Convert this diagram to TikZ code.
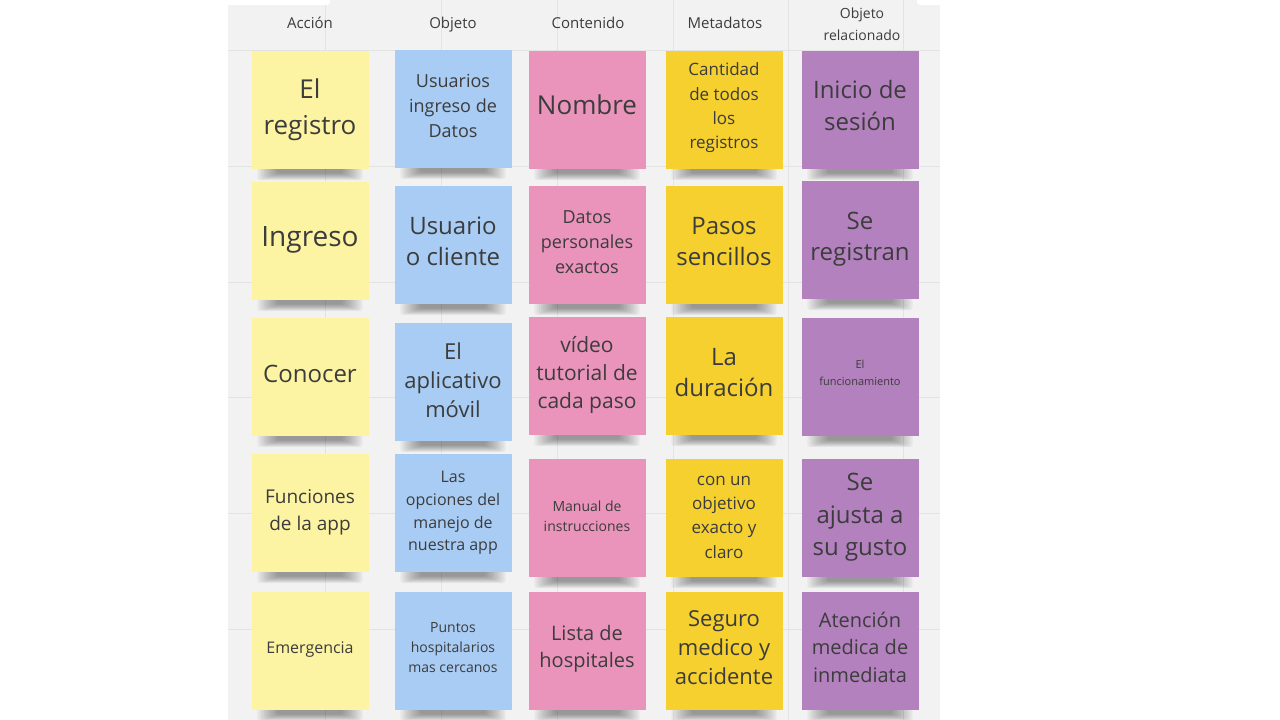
\documentclass[tikz,border=0pt]{standalone}
\usepackage{fontspec}
\setmainfont{Open Sans}
\pgfdeclarelayer{back}
\pgfdeclarelayer{bg}
\pgfsetlayers{back,bg,main}
\definecolor{panel}{HTML}{F2F2F2}
\definecolor{gridc}{HTML}{E3E3E3}
\definecolor{yel}{HTML}{FDF4A3}
\definecolor{blu}{HTML}{A8CCF3}
\definecolor{pnk}{HTML}{EA94BC}
\definecolor{gld}{HTML}{F5D02E}
\definecolor{prp}{HTML}{B381BE}
\definecolor{txt}{HTML}{3C3C3C}
\tikzset{
  note/.style={minimum width=117pt, minimum height=118pt, inner sep=0pt, draw=none},
  notetext/.style={align=center, text=txt, inner sep=0pt},
  head/.style={align=center, text=txt, inner sep=0pt, font=\fontsize{15}{22}\selectfont},
  gridline/.style={draw=gridc, line width=1pt},
  shlayer/.style={fill=black, opacity=0.045, rounded corners=3pt}
}
\newcommand\stickynote[8]{%
  \node[note, fill=#4] (#1) at (#2,#3) {};
  \node[notetext, font=\fontsize{#5}{#6}\selectfont] (#1t) at ([yshift=#8pt]#1.center) {#7};
}
\begin{document}
\begin{tikzpicture}[x=1pt,y=-1pt]
\useasboundingbox (0,0) rectangle (1280,720);
\begin{pgfonlayer}{back}
\fill[white] (0,0) rectangle (1280,720);
\fill[panel] (228,0) rectangle (940,720);
\foreach \gx in {325,441,557,673,788,903} \draw[gridline] (\gx,0) -- (\gx,720);
\foreach \gy in {50,166,282,397,513,629} \draw[gridline] (228,\gy) -- (940,\gy);
\fill[white, rounded corners=3pt] (226,-4) rectangle (330,5);
\fill[white, rounded corners=3pt] (917,-4) rectangle (942,5);
\end{pgfonlayer}
% headers
\node[head, anchor=base] (h1) at (310,28) {Acción};
\node[head, anchor=base] (h2) at (453,28) {Objeto};
\node[head, anchor=base] (h3) at (588,28) {Contenido};
\node[head, anchor=base] (h4) at (725,28) {Metadatos};
\node[head, font=\fontsize{14}{22}\selectfont] (h5) at (862,24.5) {Objeto\\relacionado};
% row 1
\stickynote{a1}{310}{110}{yel}{26}{36}{El\\registro}{0}
\stickynote{b1}{453}{109}{blu}{18}{25}{Usuarios\\ingreso de\\Datos}{3}
\stickynote{c1}{587}{110}{pnk}{26}{36}{Nombre}{5}
\stickynote{d1}{724}{110}{gld}{17}{24.3}{Cantidad\\de todos\\los\\registros}{2}
\stickynote{e1}{860}{110}{prp}{24}{32}{Inicio de\\sesión}{5}
% row 2
\stickynote{a2}{310}{241}{yel}{28}{36}{Ingreso}{1}
\stickynote{b2}{453}{245}{blu}{24}{31}{Usuario\\o cliente}{4}
\stickynote{c2}{587}{245}{pnk}{18}{25}{Datos\\personales\\exactos}{3}
\stickynote{d2}{724}{245}{gld}{24}{31}{Pasos\\sencillos}{3}
\stickynote{e2}{860}{240}{prp}{24}{31}{Se\\registran}{1}
% row 3
\stickynote{a3}{310}{377}{yel}{24}{32}{Conocer}{3}
\stickynote{b3}{453}{382}{blu}{22}{29}{El\\aplicativo\\móvil}{2}
\stickynote{c3}{587}{376}{pnk}{21}{28}{vídeo\\tutorial de\\cada paso}{1}
\stickynote{d3}{724}{376}{gld}{24}{31}{La\\duración}{3}
\stickynote{e3}{860}{377}{prp}{11}{17}{El\\funcionamiento}{4}
% row 4
\stickynote{a4}{310}{513}{yel}{19}{27}{Funciones\\de la app}{0.5}
\stickynote{b4}{453}{513}{blu}{16}{22.7}{Las\\opciones del\\manejo de\\nuestra app}{0}
\stickynote{c4}{587}{518}{pnk}{14}{20}{Manual de\\instrucciones}{2}
\stickynote{d4}{724}{518}{gld}{17}{24.3}{con un\\objetivo\\exacto y\\claro}{1}
\stickynote{e4}{860}{518}{prp}{24}{32.5}{Se\\ajusta a\\su gusto}{0.5}
% row 5
\stickynote{a5}{310}{651}{yel}{16}{22}{Emergencia}{1}
\stickynote{b5}{453}{651}{blu}{14}{20}{Puntos\\hospitalarios\\mas cercanos}{3}
\stickynote{c5}{587}{651}{pnk}{20}{27}{Lista de\\hospitales}{2}
\stickynote{d5}{724}{651}{gld}{22}{29}{Seguro\\medico y\\accidente}{3}
\stickynote{e5}{860}{651}{prp}{20}{27.5}{Atención\\medica de\\inmediata}{4}
% shadows
\begin{pgfonlayer}{bg}
\foreach \n in {a1,b1,c1,d1,e1,a2,b2,c2,d2,e2,a3,b3,c3,d3,e3,a4,b4,c4,d4,e4,a5,b5,c5,d5,e5} {
  \foreach \i in {0,...,9} {
    \fill[shlayer] ([xshift={6+2.2*\i},yshift=2pt]\n.south west) rectangle ([xshift={-6-2.2*\i},yshift={-11+0.75*\i}]\n.south east);
  }
}
\end{pgfonlayer}
\end{tikzpicture}
\end{document}
